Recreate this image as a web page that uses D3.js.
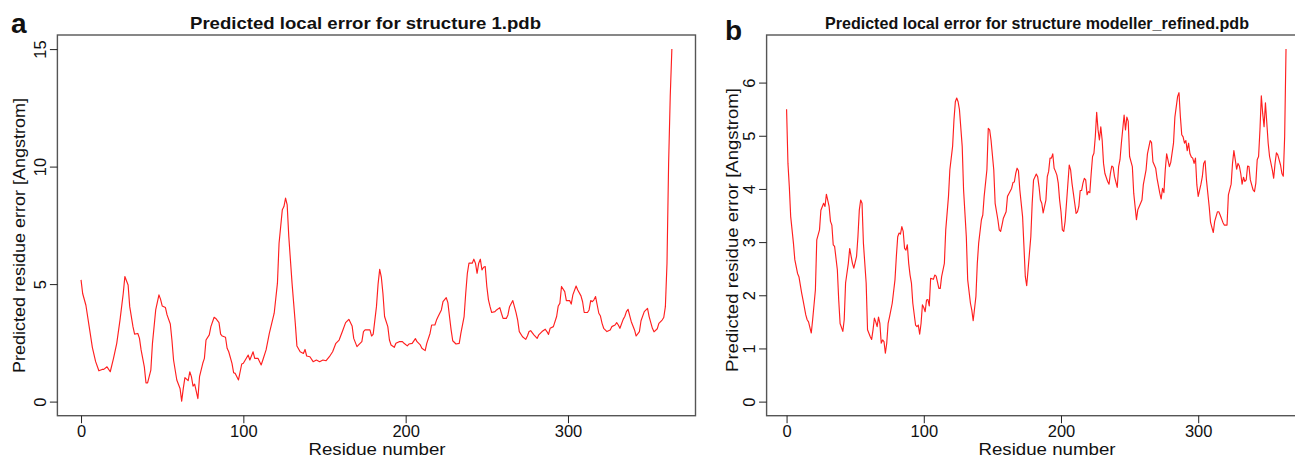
<!DOCTYPE html>
<html>
<head>
<meta charset="utf-8">
<script src="https://cdn.jsdelivr.net/npm/d3@7"></script>
<style>
  body { margin: 0; background: #fff; }
  text { font-family: "Liberation Sans", Arial, sans-serif; fill: #111; }
</style>
</head>
<body>
<div id="chart"></div>
<script>
// values
var residuesA = [0,1,3,5,7,9,11,13,14,16,18,20,22,24,26,27,29,30,32,33,35,36,37,39,40,41,43,44,46,48,49,50,52,53,55,56,57,59,61,62,63,64,66,67,68,69,70,72,73,75,76,77,79,80,82,83,85,86,87,89,90,91,93,94,95,97,99,100,103,104,106,107,109,111,112,114,116,119,121,122,124,125,126,127,128,130,132,133,135,137,138,139,141,143,145,147,149,151,153,155,157,159,161,163,165,167,168,170,171,173,174,175,178,179,180,182,183,184,185,186,187,189,190,191,193,194,196,198,199,201,202,204,206,207,209,210,212,213,215,216,218,219,220,222,223,225,226,227,228,229,231,233,234,236,237,238,239,241,242,243,244,245,246,247,248,249,250,251,252,253,255,256,258,259,260,262,263,264,266,267,268,269,270,272,274,275,276,277,279,281,282,284,286,287,288,289,291,293,294,295,296,298,299,301,302,303,305,306,308,309,310,312,313,314,315,316,317,318,319,320,321,322,324,326,327,329,330,331,332,334,335,336,337,339,341,342,344,345,347,349,350,352,353,355,356,358,359,360,361,362,363,364];
var errorA = [5.18,4.6,4.1,3.2,2.3,1.7,1.31,1.37,1.37,1.48,1.27,1.84,2.48,3.47,4.6,5.32,4.96,4.04,3.19,2.87,2.9,2.69,2.2,1.48,0.8,0.8,1.34,2.48,3.9,4.54,4.35,4.07,4.0,3.69,3.3,2.62,1.77,0.92,0.56,0.02,0.56,1.02,0.89,1.27,1.06,0.66,0.74,0.13,1.06,1.63,1.84,2.62,2.84,3.19,3.59,3.54,3.36,2.87,2.79,2.74,2.27,2.12,1.63,1.23,1.2,0.92,1.6,1.63,1.98,1.77,2.12,1.84,1.84,1.56,1.77,2.2,2.9,3.76,5.04,6.74,8.16,8.3,8.66,8.37,7.02,5.04,3.33,2.37,2.12,2.05,2.22,1.94,1.91,1.7,1.77,1.7,1.77,1.74,1.91,2.12,2.48,2.62,2.98,3.36,3.5,3.22,2.69,2.34,2.41,2.55,2.98,3.05,3.05,2.79,2.87,4.04,5.0,5.63,5.3,4.6,3.62,3.19,2.62,2.41,2.31,2.48,2.55,2.55,2.48,2.37,2.45,2.48,2.68,2.55,2.41,2.27,2.17,2.48,2.9,3.26,3.26,3.47,3.62,3.9,4.25,4.42,4.21,3.62,3.05,2.59,2.45,2.48,2.9,3.62,4.61,5.46,5.89,5.89,6.06,5.89,5.46,5.89,6.06,5.6,5.72,5.75,4.9,4.33,4.04,3.79,3.83,3.9,4.0,3.76,3.54,3.54,3.69,4.04,4.3,4.04,3.79,3.47,2.98,2.76,2.65,2.79,2.98,3.02,2.84,2.69,2.84,2.98,3.08,2.98,2.86,3.12,3.19,3.62,4.07,4.18,4.9,4.68,4.3,4.3,4.15,4.54,4.92,4.75,4.5,4.25,3.79,3.79,3.9,4.3,4.25,4.33,4.47,4.11,3.76,3.64,3.33,3.12,2.98,3.05,3.19,3.26,3.36,3.26,3.12,3.5,3.62,3.83,3.93,3.4,3.05,2.79,2.98,3.44,3.83,3.97,3.62,3.12,2.97,3.1,3.33,3.47,3.58,4.04,5.89,10.15,13.0,15.0];

var residuesB = [0,1,2,3,5,6,8,9,11,12,14,15,16,18,19,21,22,24,25,27,28,29,31,32,33,34,35,37,38,39,41,42,43,45,46,48,49,51,52,53,54,55,56,58,59,61,62,63,64,65,66,67,68,69,70,71,72,73,74,75,77,78,79,80,81,82,83,84,85,86,87,88,89,90,91,92,94,95,96,97,98,99,100,101,102,103,104,105,107,108,109,111,112,113,115,116,118,119,121,122,123,124,125,126,128,129,131,132,134,135,136,138,139,140,142,143,144,146,147,148,149,151,152,154,155,156,157,158,160,161,162,164,165,166,167,168,169,170,172,173,174,175,176,178,179,180,182,183,184,185,186,187,188,189,190,191,192,193,194,195,196,197,198,199,200,201,202,203,204,206,207,208,209,210,211,212,213,214,215,216,217,218,219,220,221,222,223,224,225,226,227,228,229,230,231,232,234,235,236,237,238,239,241,242,243,244,246,247,248,249,250,252,253,255,256,258,259,260,262,263,265,266,267,269,270,272,273,274,275,276,277,279,280,282,283,285,286,287,288,289,290,291,292,293,294,295,296,297,298,299,300,302,303,304,305,306,308,309,311,312,314,315,316,318,319,321,322,324,325,326,327,328,329,330,331,332,333,334,335,336,337,338,340,341,342,343,344,345,346,347,348,349,350,351,352,354,355,356,357,358,360,361,362,363,364];
var errorB = [5.5,4.48,4.04,3.48,2.98,2.67,2.41,2.35,2.04,1.91,1.63,1.54,1.5,1.29,1.54,2.1,3.04,3.23,3.6,3.73,3.67,3.9,3.67,3.39,3.32,2.95,2.92,2.48,1.91,1.47,1.32,1.54,2.23,2.6,2.88,2.6,2.51,2.73,3.1,3.6,3.79,3.73,2.98,2.23,1.35,1.22,1.17,1.35,1.57,1.5,1.41,1.59,1.47,1.1,1.16,1.13,0.91,1.1,1.47,1.59,1.85,2.07,2.29,2.73,3.1,3.17,3.15,3.29,3.2,2.88,2.85,2.95,2.6,2.38,2.23,1.85,1.44,1.41,1.44,1.27,1.47,1.82,1.77,1.69,1.91,1.92,1.8,2.32,2.3,2.38,2.36,2.13,2.13,2.35,2.6,3.23,3.86,4.36,4.8,5.3,5.64,5.71,5.64,5.49,4.8,3.98,3.1,2.29,1.85,1.72,1.52,1.98,2.6,2.98,3.42,3.51,3.86,4.36,5.14,5.11,4.92,4.36,3.73,3.42,3.23,3.2,3.32,3.45,3.57,3.86,3.91,4.01,4.12,4.13,4.29,4.39,4.34,3.98,3.48,2.92,2.35,2.18,2.48,3.1,3.73,4.17,4.28,4.23,4.04,3.79,3.73,3.55,3.67,3.79,4.23,4.33,4.58,4.58,4.66,4.39,4.33,4.26,4.11,3.79,3.57,3.23,3.2,3.39,3.73,4.45,4.36,4.11,3.92,3.73,3.54,3.57,3.67,3.97,3.97,4.11,4.2,4.17,3.89,3.95,3.93,4.29,4.61,4.67,4.98,5.44,5.11,4.92,5.17,4.92,4.48,4.29,4.14,4.09,4.29,4.43,4.41,4.23,4.03,4.42,4.55,4.86,5.39,5.11,5.35,5.27,4.61,4.42,3.92,3.42,3.61,3.73,3.79,4.08,4.36,4.66,4.91,4.87,4.51,4.39,4.2,3.92,3.81,4.01,3.93,4.36,4.66,4.42,4.5,4.86,5.35,5.74,5.81,5.36,5.02,4.98,4.86,4.91,4.72,4.86,4.66,4.6,4.58,4.48,4.58,4.08,3.86,4.09,4.23,4.48,4.53,4.17,3.67,3.37,3.18,3.39,3.57,3.57,3.51,3.37,3.32,3.32,3.89,4.09,4.48,4.72,4.55,4.37,4.48,4.43,4.29,4.09,4.22,4.14,4.17,4.43,4.42,4.17,3.98,3.95,4.11,4.55,4.61,5.11,5.75,5.42,5.17,5.62,5.24,4.86,4.61,4.36,4.2,4.48,4.68,4.64,4.45,4.29,4.24,4.98,6.63];

var xTicks = [0, 100, 200, 300];
var yTicksA = [0, 5, 10, 15];
var yTicksB = [0, 1, 2, 3, 4, 5, 6];
var titleA = "Predicted local error for structure 1.pdb";
var titleB = "Predicted local error for structure modeller_refined.pdb";
var xLabel = "Residue number";
var yLabel = "Predicted residue error [Angstrom]";

var svg = d3.select("#chart").append("svg")
  .attr("width", 1295)
  .attr("height", 457);

function drawPanel(p) {
  // R style: 4% padding around the data range
  var x = d3.scaleLinear().domain([-14.56, 378.56]).range([p.left, p.right]);
  var y = d3.scaleLinear().domain(p.yDomain).range([415.7, 35]);

  var g = svg.append("g");

  // plot box
  g.append("rect")
    .attr("x", p.left)
    .attr("y", 35)
    .attr("width", p.right - p.left)
    .attr("height", 415.7 - 35)
    .attr("fill", "none")
    .attr("stroke", "#555")
    .attr("stroke-width", 1.4);

  // the line
  var line = d3.line()
    .x(function(d) { return x(d[0]); })
    .y(function(d) { return y(d[1]); });
  g.append("path")
    .datum(d3.zip(p.xs, p.ys))
    .attr("fill", "none")
    .attr("stroke", "#ff1f1f")
    .attr("stroke-width", 1.15)
    .attr("stroke-linejoin", "round")
    .attr("d", line);

  // x axis
  var xa = g.append("g")
    .attr("transform", "translate(0,415.7)")
    .call(d3.axisBottom(x).tickValues(xTicks).tickSize(7.5).tickFormat(d3.format("d")));
  xa.select(".domain").remove();
  xa.selectAll("line").attr("stroke", "#222");
  xa.selectAll("text")
    .attr("y", 21.3)
    .attr("dy", 0)
    .style("font-size", "16.5px")
    .style("fill", "#111");

  // y axis, labels turned like R does by default
  var ya = g.append("g")
    .attr("transform", "translate(" + p.left + ",0)")
    .call(d3.axisLeft(y).tickValues(p.yTicks).tickSize(7.5).tickFormat(d3.format("d")));
  ya.select(".domain").remove();
  ya.selectAll("line").attr("stroke", "#222");
  ya.selectAll("text")
    .attr("x", 0)
    .attr("y", -11.5)
    .attr("dy", 0)
    .attr("transform", "rotate(-90)")
    .attr("text-anchor", "middle")
    .style("font-size", "16.5px")
    .style("fill", "#111");

  // titles and labels
  svg.append("text")
    .attr("x", p.titleX)
    .attr("y", 28.5)
    .attr("textLength", p.titleW)
    .attr("lengthAdjust", "spacingAndGlyphs")
    .style("font-size", "17px")
    .style("font-weight", "bold")
    .text(p.title);

  svg.append("text")
    .attr("x", p.tagX)
    .attr("y", p.tagY)
    .style("font-size", "28px")
    .style("font-weight", "bold")
    .text(p.tag);

  svg.append("text")
    .attr("x", p.xLabX)
    .attr("y", 454.5)
    .attr("textLength", 137)
    .attr("lengthAdjust", "spacingAndGlyphs")
    .style("font-size", "16.5px")
    .text(xLabel);

  svg.append("text")
    .attr("transform", "translate(" + p.yLabX + "," + p.yLabY + ") rotate(-90)")
    .attr("text-anchor", "middle")
    .attr("textLength", p.yLabW)
    .attr("lengthAdjust", "spacingAndGlyphs")
    .style("font-size", "17px")
    .text(yLabel);
}

drawPanel({
  xs: residuesA, ys: errorA,
  left: 57.4, right: 695.5,
  yDomain: [-0.6, 15.6], yTicks: yTicksA,
  title: titleA, titleX: 190, titleW: 351,
  tag: "a", tagX: 11, tagY: 33,
  xLabX: 308.5,
  yLabX: 25, yLabY: 235.5, yLabW: 275
});

drawPanel({
  xs: residuesB, ys: errorB,
  left: 766.6, right: 1306,
  yDomain: [-0.265, 6.895], yTicks: yTicksB,
  title: titleB, titleX: 825, titleW: 424,
  tag: "b", tagX: 725, tagY: 40,
  xLabX: 978.5,
  yLabX: 737.5, yLabY: 230, yLabW: 284
});
</script>
</body>
</html>
